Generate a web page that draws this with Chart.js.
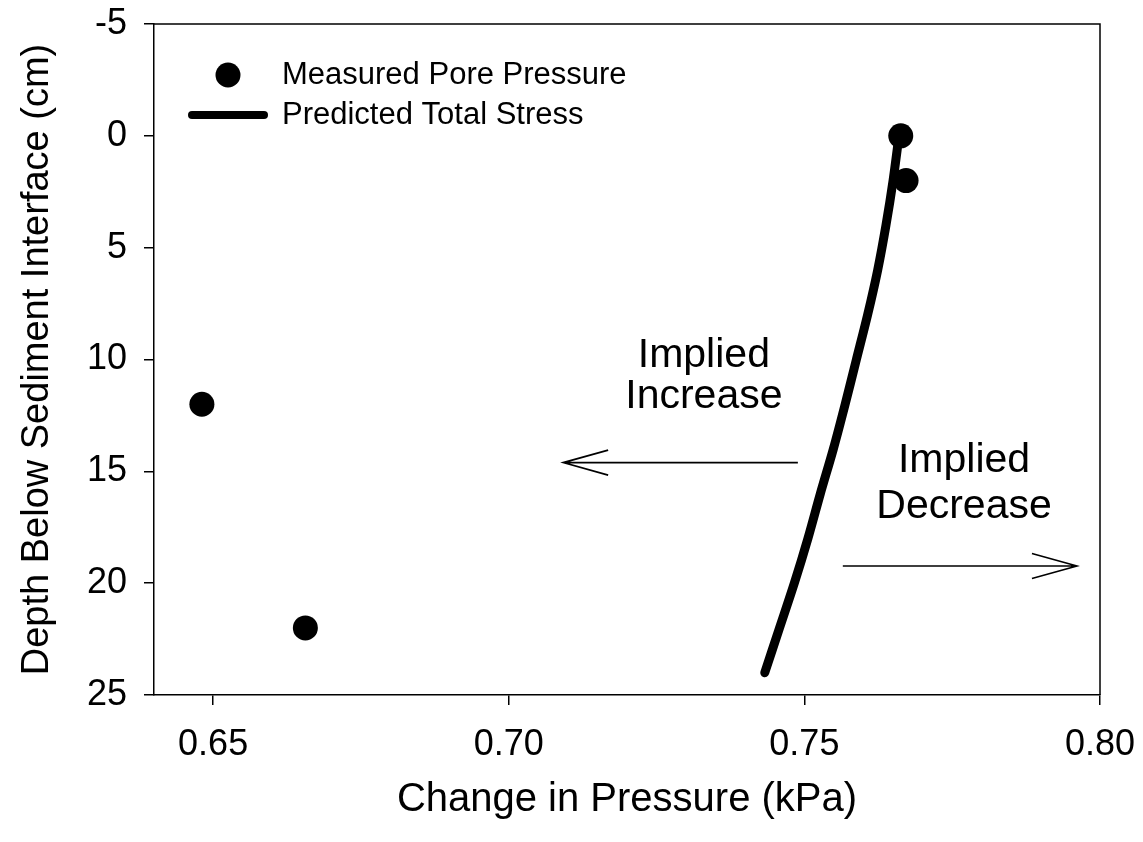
<!DOCTYPE html>
<html><head><meta charset="utf-8">
<script src="https://cdn.jsdelivr.net/npm/chart.js@4.4.1/dist/chart.umd.min.js"></script>
<style>html,body{margin:0;padding:0;background:#fff;overflow:hidden;}</style>
</head><body>
<canvas id="c" width="1143" height="842"></canvas>
<script>
// ---- data ----
const measuredPressure = [0.7663, 0.7672, 0.6481, 0.6656];
const measuredDepth    = [0, 2, 12, 22];
const predictedDepth    = [0, 2, 4, 6, 8, 10, 12, 14, 16, 18, 20, 22, 24];
const predictedPressure = [0.7660, 0.7650, 0.7638, 0.7624, 0.7607, 0.7588, 0.7569, 0.7549, 0.7527, 0.7506, 0.7483, 0.7458, 0.7433];
const xTickValues = [0.65, 0.70, 0.75, 0.80];
const yTickValues = [-5, 0, 5, 10, 15, 20, 25];
const seriesNames = ['Measured Pore Pressure', 'Predicted Total Stress'];
// annotation texts with anchor values (data coords)
const noteIncrease = {lines: ['Implied', 'Increase'], x: 0.7330, y: [10.33, 12.17], arrowFrom: 0.7489, arrowTo: 0.7092, arrowY: 14.61};
const noteDecrease = {lines: ['Implied', 'Decrease'], x: 0.7770, y: [15.03, 17.08], arrowFrom: 0.7565, arrowTo: 0.7961, arrowY: 19.23};

const FONT = "'Liberation Sans', Arial, Helvetica, sans-serif";

const measuredData = measuredPressure.map((v, i) => ({x: v, y: measuredDepth[i]}));
const predictedData = predictedPressure.map((v, i) => ({x: v, y: predictedDepth[i]}));

const extras = {
  id: 'extras',
  afterDraw(chart) {
    const {ctx, chartArea: a, scales: {x, y}} = chart;
    ctx.save();
    // frame top/right
    ctx.strokeStyle = '#000';
    ctx.lineWidth = 1.5;
    ctx.beginPath();
    ctx.moveTo(a.left, a.top); ctx.lineTo(a.right, a.top); ctx.lineTo(a.right, a.bottom);
    ctx.stroke();

    // annotations
    ctx.fillStyle = '#000';
    ctx.font = '41px ' + FONT;
    ctx.textAlign = 'center';
    ctx.textBaseline = 'alphabetic';
    [noteIncrease, noteDecrease].forEach(n => {
      n.lines.forEach((t, i) => ctx.fillText(t, x.getPixelForValue(n.x), y.getPixelForValue(n.y[i])));
      const x1 = x.getPixelForValue(n.arrowFrom), x2 = x.getPixelForValue(n.arrowTo), ay = y.getPixelForValue(n.arrowY);
      const dir = Math.sign(x2 - x1);
      ctx.lineWidth = 1.6;
      ctx.beginPath();
      ctx.moveTo(x1, ay); ctx.lineTo(x2, ay);
      ctx.moveTo(x2 - dir * 45, ay - 12.5); ctx.lineTo(x2, ay); ctx.lineTo(x2 - dir * 45, ay + 12.5);
      ctx.stroke();
    });

    // legend
    const lx = a.left + 74, ly1 = a.top + 51, ly2 = a.top + 91;
    ctx.beginPath();
    ctx.arc(lx, ly1, 12.5, 0, Math.PI * 2);
    ctx.fill();
    ctx.lineWidth = 8; ctx.lineCap = 'round';
    ctx.beginPath();
    ctx.moveTo(lx - 36, ly2); ctx.lineTo(lx + 36, ly2);
    ctx.stroke();
    ctx.font = '31px ' + FONT;
    ctx.textAlign = 'left';
    ctx.textBaseline = 'middle';
    ctx.fillText(seriesNames[0], a.left + 128, ly1);
    ctx.fillText(seriesNames[1], a.left + 128, ly2);
    ctx.restore();
  }
};

const axisCommon = {
  grid: {drawOnChartArea: false, drawTicks: true, tickLength: 10, color: '#000', lineWidth: 1.5},
  border: {display: true, color: '#000', width: 1.5},
};

new Chart(document.getElementById('c'), {
  type: 'scatter',
  data: {
    datasets: [
      {label: seriesNames[0], data: measuredData, pointRadius: 12.5, pointHoverRadius: 12.5,
       backgroundColor: '#000', borderWidth: 0, showLine: false},
      {label: seriesNames[1], data: predictedData, showLine: true, pointRadius: 0, pointHoverRadius: 0,
       borderColor: '#000', borderWidth: 9, borderCapStyle: 'round', borderJoinStyle: 'round', tension: 0.3, fill: false}
    ]
  },
  options: {
    responsive: false, animation: false, devicePixelRatio: 1,
    events: [],
    layout: {padding: {top: 24, right: 43, left: 0, bottom: 0}},
    plugins: {legend: {display: false}, tooltip: {enabled: false}},
    scales: {
      x: Object.assign({}, axisCommon, {
        type: 'linear', min: 0.64, max: 0.80,
        afterBuildTicks: s => { s.ticks = xTickValues.map(v => ({value: v})); },
        afterFit: s => { s.height = 147; s.paddingLeft = 0; s.paddingRight = 0; },
        ticks: {color: '#000', font: {family: FONT, size: 36}, padding: 18, maxRotation: 0,
                callback: v => Number(v).toFixed(2)},
        title: {display: true, text: 'Change in Pressure (kPa)', color: '#000',
                font: {family: FONT, size: 40}, padding: {top: 0, bottom: 18}}
      }),
      y: Object.assign({}, axisCommon, {
        type: 'linear', reverse: true, min: -5, max: 25,
        afterBuildTicks: s => { s.ticks = yTickValues.map(v => ({value: v})); },
        afterFit: s => { s.width = 154; s.paddingTop = 0; s.paddingBottom = 0; },
        ticks: {color: '#000', font: {family: FONT, size: 36}, padding: 17,
                callback: v => String(v)},
        title: {display: true, text: 'Depth Below Sediment Interface (cm)', color: '#000',
                font: {family: FONT, size: 38}, padding: {top: 15, bottom: 0}}
      })
    }
  },
  plugins: [extras]
});
</script>
</body></html>
